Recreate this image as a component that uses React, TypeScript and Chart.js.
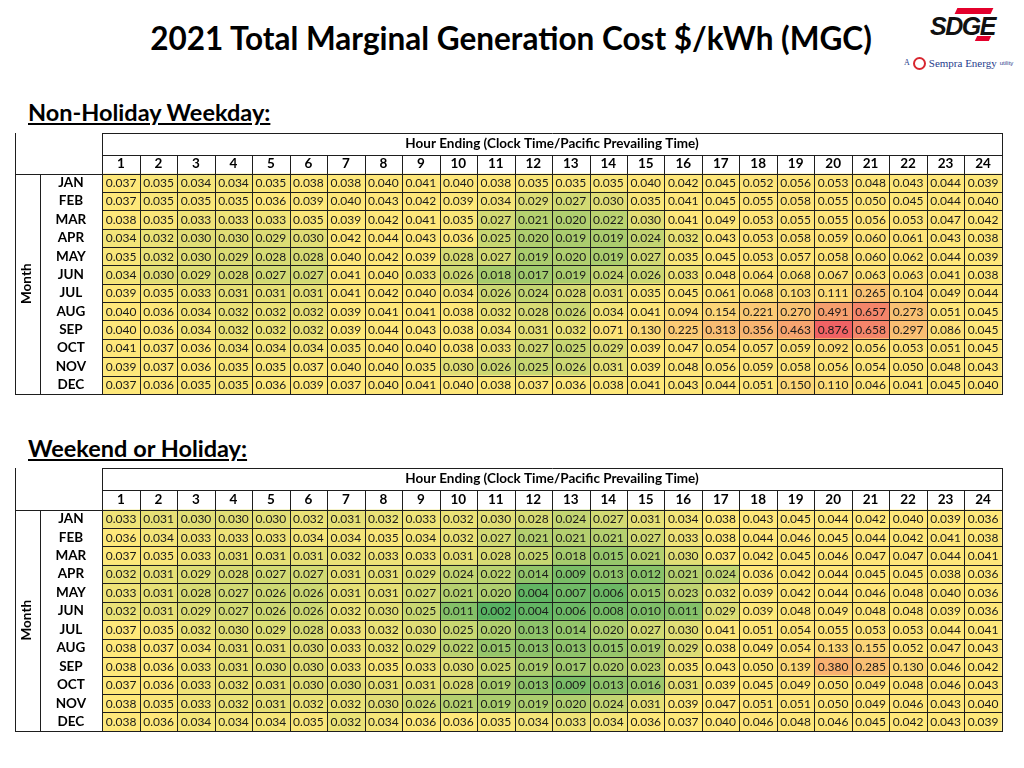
import React, { useEffect, useRef } from "react";
import { Chart, registerables } from "chart.js";

Chart.register(...registerables);

// ---------------- DATA ----------------
const MONTHS = ["JAN", "FEB", "MAR", "APR", "MAY", "JUN", "JUL", "AUG", "SEP", "OCT", "NOV", "DEC"];
const HOURS = ["1", "2", "3", "4", "5", "6", "7", "8", "9", "10", "11", "12", "13", "14", "15", "16", "17", "18", "19", "20", "21", "22", "23", "24"];

const TITLE = "2021 Total Marginal Generation Cost $/kWh (MGC)";
const WEEKDAY_HEADING = "Non-Holiday Weekday:";
const WEEKEND_HEADING = "Weekend or Holiday:";
const HOUR_AXIS_TITLE = "Hour Ending (Clock Time/Pacific Prevailing Time)";
const MONTH_AXIS_TITLE = "Month";

// Non-Holiday Weekday, rows = months, columns = hour ending 1..24
const weekdayCost: number[][] = [
  [0.037, 0.035, 0.034, 0.034, 0.035, 0.038, 0.038, 0.040, 0.041, 0.040, 0.038, 0.035, 0.035, 0.035, 0.040, 0.042, 0.045, 0.052, 0.056, 0.053, 0.048, 0.043, 0.044, 0.039],
  [0.037, 0.035, 0.035, 0.035, 0.036, 0.039, 0.040, 0.043, 0.042, 0.039, 0.034, 0.029, 0.027, 0.030, 0.035, 0.041, 0.045, 0.055, 0.058, 0.055, 0.050, 0.045, 0.044, 0.040],
  [0.038, 0.035, 0.033, 0.033, 0.033, 0.035, 0.039, 0.042, 0.041, 0.035, 0.027, 0.021, 0.020, 0.022, 0.030, 0.041, 0.049, 0.053, 0.055, 0.055, 0.056, 0.053, 0.047, 0.042],
  [0.034, 0.032, 0.030, 0.030, 0.029, 0.030, 0.042, 0.044, 0.043, 0.036, 0.025, 0.020, 0.019, 0.019, 0.024, 0.032, 0.043, 0.053, 0.058, 0.059, 0.060, 0.061, 0.043, 0.038],
  [0.035, 0.032, 0.030, 0.029, 0.028, 0.028, 0.040, 0.042, 0.039, 0.028, 0.027, 0.019, 0.020, 0.019, 0.027, 0.035, 0.045, 0.053, 0.057, 0.058, 0.060, 0.062, 0.044, 0.039],
  [0.034, 0.030, 0.029, 0.028, 0.027, 0.027, 0.041, 0.040, 0.033, 0.026, 0.018, 0.017, 0.019, 0.024, 0.026, 0.033, 0.048, 0.064, 0.068, 0.067, 0.063, 0.063, 0.041, 0.038],
  [0.039, 0.035, 0.033, 0.031, 0.031, 0.031, 0.041, 0.042, 0.040, 0.034, 0.026, 0.024, 0.028, 0.031, 0.035, 0.045, 0.061, 0.068, 0.103, 0.111, 0.265, 0.104, 0.049, 0.044],
  [0.040, 0.036, 0.034, 0.032, 0.032, 0.032, 0.039, 0.041, 0.041, 0.038, 0.032, 0.028, 0.026, 0.034, 0.041, 0.094, 0.154, 0.221, 0.270, 0.491, 0.657, 0.273, 0.051, 0.045],
  [0.040, 0.036, 0.034, 0.032, 0.032, 0.032, 0.039, 0.044, 0.043, 0.038, 0.034, 0.031, 0.032, 0.071, 0.130, 0.225, 0.313, 0.356, 0.463, 0.876, 0.658, 0.297, 0.086, 0.045],
  [0.041, 0.037, 0.036, 0.034, 0.034, 0.034, 0.035, 0.040, 0.040, 0.038, 0.033, 0.027, 0.025, 0.029, 0.039, 0.047, 0.054, 0.057, 0.059, 0.092, 0.056, 0.053, 0.051, 0.045],
  [0.039, 0.037, 0.036, 0.035, 0.035, 0.037, 0.040, 0.040, 0.035, 0.030, 0.026, 0.025, 0.026, 0.031, 0.039, 0.048, 0.056, 0.059, 0.058, 0.056, 0.054, 0.050, 0.048, 0.043],
  [0.037, 0.036, 0.035, 0.035, 0.036, 0.039, 0.037, 0.040, 0.041, 0.040, 0.038, 0.037, 0.036, 0.038, 0.041, 0.043, 0.044, 0.051, 0.150, 0.110, 0.046, 0.041, 0.045, 0.040],
];

// Weekend or Holiday, rows = months, columns = hour ending 1..24
const weekendCost: number[][] = [
  [0.033, 0.031, 0.030, 0.030, 0.030, 0.032, 0.031, 0.032, 0.033, 0.032, 0.030, 0.028, 0.024, 0.027, 0.031, 0.034, 0.038, 0.043, 0.045, 0.044, 0.042, 0.040, 0.039, 0.036],
  [0.036, 0.034, 0.033, 0.033, 0.033, 0.034, 0.034, 0.035, 0.034, 0.032, 0.027, 0.021, 0.021, 0.021, 0.027, 0.033, 0.038, 0.044, 0.046, 0.045, 0.044, 0.042, 0.041, 0.038],
  [0.037, 0.035, 0.033, 0.031, 0.031, 0.031, 0.032, 0.033, 0.033, 0.031, 0.028, 0.025, 0.018, 0.015, 0.021, 0.030, 0.037, 0.042, 0.045, 0.046, 0.047, 0.047, 0.044, 0.041],
  [0.032, 0.031, 0.029, 0.028, 0.027, 0.027, 0.031, 0.031, 0.029, 0.024, 0.022, 0.014, 0.009, 0.013, 0.012, 0.021, 0.024, 0.036, 0.042, 0.044, 0.045, 0.045, 0.038, 0.036],
  [0.033, 0.031, 0.028, 0.027, 0.026, 0.026, 0.031, 0.031, 0.027, 0.021, 0.020, 0.004, 0.007, 0.006, 0.015, 0.023, 0.032, 0.039, 0.042, 0.044, 0.046, 0.048, 0.040, 0.036],
  [0.032, 0.031, 0.029, 0.027, 0.026, 0.026, 0.032, 0.030, 0.025, 0.011, 0.002, 0.004, 0.006, 0.008, 0.010, 0.011, 0.029, 0.039, 0.048, 0.049, 0.048, 0.048, 0.039, 0.036],
  [0.037, 0.035, 0.032, 0.030, 0.029, 0.028, 0.033, 0.032, 0.030, 0.025, 0.020, 0.013, 0.014, 0.020, 0.027, 0.030, 0.041, 0.051, 0.054, 0.055, 0.053, 0.053, 0.044, 0.041],
  [0.038, 0.037, 0.034, 0.031, 0.031, 0.030, 0.033, 0.032, 0.029, 0.022, 0.015, 0.013, 0.013, 0.015, 0.019, 0.029, 0.038, 0.049, 0.054, 0.133, 0.155, 0.052, 0.047, 0.043],
  [0.038, 0.036, 0.033, 0.031, 0.030, 0.030, 0.033, 0.035, 0.033, 0.030, 0.025, 0.019, 0.017, 0.020, 0.023, 0.035, 0.043, 0.050, 0.139, 0.380, 0.285, 0.130, 0.046, 0.042],
  [0.037, 0.036, 0.033, 0.032, 0.031, 0.030, 0.030, 0.031, 0.031, 0.028, 0.019, 0.013, 0.009, 0.013, 0.016, 0.031, 0.039, 0.045, 0.049, 0.050, 0.049, 0.048, 0.046, 0.043],
  [0.038, 0.035, 0.033, 0.032, 0.031, 0.032, 0.032, 0.030, 0.026, 0.021, 0.019, 0.019, 0.020, 0.024, 0.031, 0.039, 0.047, 0.051, 0.051, 0.050, 0.049, 0.046, 0.043, 0.040],
  [0.038, 0.036, 0.034, 0.034, 0.034, 0.035, 0.032, 0.034, 0.036, 0.036, 0.035, 0.034, 0.033, 0.034, 0.036, 0.037, 0.040, 0.046, 0.048, 0.046, 0.045, 0.042, 0.043, 0.039],
];

// ---------------- COLOR SCALE (3-colour: min green, median yellow, max red) ----------------
const GREEN = [88, 178, 98];
const YELLOW = [254, 232, 122];
const RED = [240, 98, 100];

const sortedVals = [...weekdayCost.flat(), ...weekendCost.flat()].sort((a, b) => a - b);
const vMin = sortedVals[0];
const vMax = sortedVals[sortedVals.length - 1];
const vMid = (() => {
  const idx = (sortedVals.length - 1) * 0.5;
  const lo = Math.floor(idx);
  const hi = Math.ceil(idx);
  return sortedVals[lo] + (sortedVals[hi] - sortedVals[lo]) * (idx - lo);
})();

function mix(a: number[], b: number[], t: number) {
  const c = a.map((v, i) => Math.round(v + (b[i] - v) * Math.max(0, Math.min(1, t))));
  return `rgb(${c[0]},${c[1]},${c[2]})`;
}
function heatColor(v: number | undefined) {
  if (v === undefined || v === null) return "#ffffff";
  if (v <= vMid) return mix(GREEN, YELLOW, (v - vMin) / (vMid - vMin));
  return mix(YELLOW, RED, (v - vMid) / (vMax - vMid));
}

// ---------------- LAYOUT CONSTANTS ----------------
const FONT = "Lato";
const LINE_COLOR = "#1e1e1e";
const FRAME_LEFT = 15;
const MONTH_COL_X = 40;
const TABLE_RIGHT = 1001.8;
const LABEL_AXIS_W = 87.3;

type TableProps = {
  values: number[][];
  top: number;
  height: number;
  headerH: number;
  hourRowH: number;
};

function HeatTable({ values, top, height, headerH, hourRowH }: TableProps) {
  const ref = useRef<HTMLCanvasElement>(null);

  useEffect(() => {
    if (!ref.current) return;

    const datasets = HOURS.map((h, hi) => ({
      label: h,
      xAxisID: "x",
      yAxisID: "y",
      data: MONTHS.map((m, mi) => ({ x: [hi, hi + 1], y: m, v: values[mi][hi] })),
      backgroundColor: (ctx: any) => heatColor(ctx.raw ? ctx.raw.v : undefined),
    }));

    const linesPlugin = {
      id: "tableLines",
      afterDraw(chart: any) {
        const { ctx, chartArea: ca, scales } = chart;
        const xs = scales.x;
        const ys = scales.y;
        const xh = scales.xh;
        const al = (p: number) => Math.round(p) + 0.5;
        const hdrTop = xh.top;
        const hourTop = ca.top - hourRowH;
        ctx.save();
        ctx.strokeStyle = LINE_COLOR;
        ctx.lineWidth = 1;
        ctx.beginPath();
        const hline = (y: number, x0: number, x1: number) => {
          ctx.moveTo(Math.round(x0), al(y));
          ctx.lineTo(Math.round(x1) + 1, al(y));
        };
        const vline = (x: number, y0: number, y1: number) => {
          ctx.moveTo(al(x), Math.round(y0));
          ctx.lineTo(al(x), Math.round(y1) + 1);
        };
        hline(hdrTop, ca.left, ca.right);
        hline(hourTop, ca.left, ca.right);
        for (let j = 0; j <= MONTHS.length; j++) {
          const y = ys.getPixelForValue(j - 0.5);
          const x0 = j === 0 || j === MONTHS.length ? FRAME_LEFT : ca.left;
          hline(y, x0, ca.right);
        }
        for (let i = 0; i <= HOURS.length; i++) {
          const x = xs.getPixelForValue(i);
          const y0 = i === 0 || i === HOURS.length ? hdrTop : hourTop;
          vline(x, y0, ca.bottom);
        }
        vline(FRAME_LEFT, hdrTop, ca.bottom);
        vline(MONTH_COL_X, ca.top, ca.bottom);
        ctx.stroke();
        ctx.restore();
      },
    };

    const labelPlugin = {
      id: "cellLabels",
      afterDatasetsDraw(chart: any) {
        const { ctx } = chart;
        ctx.save();
        ctx.font = `12px ${FONT}`;
        ctx.fillStyle = "#1a1a1a";
        ctx.textAlign = "center";
        ctx.textBaseline = "middle";
        chart.data.datasets.forEach((ds: any, di: number) => {
          const meta = chart.getDatasetMeta(di);
          meta.data.forEach((el: any, i: number) => {
            const p = el.getCenterPoint();
            ctx.fillText(ds.data[i].v.toFixed(3), p.x, p.y + 0.5);
          });
        });
        ctx.restore();
      },
    };

    const boldFont = { family: FONT, size: 13.5, weight: "bold" as const };

    const chart = new Chart(ref.current, {
      type: "bar",
      data: { labels: MONTHS, datasets: datasets as any },
      options: {
        animation: false,
        responsive: false,
        devicePixelRatio: 1,
        indexAxis: "y",
        layout: { padding: { left: FRAME_LEFT, right: 1024 - TABLE_RIGHT, top: 5, bottom: 8 } },
        datasets: {
          bar: { grouped: false, categoryPercentage: 1, barPercentage: 1, borderWidth: 0 },
        } as any,
        plugins: {
          legend: { display: false },
          tooltip: { enabled: false },
          title: { display: false },
        },
        scales: {
          x: { type: "linear", display: false, min: 0, max: HOURS.length },
          xh: {
            type: "category",
            axis: "x",
            position: "top",
            labels: HOURS,
            offset: true,
            grid: { display: false, drawTicks: false },
            border: { display: false },
            ticks: { font: boldFont, color: "#000", padding: 1.4, maxRotation: 0, autoSkip: false },
            title: {
              display: true,
              text: HOUR_AXIS_TITLE,
              font: boldFont,
              color: "#000",
              padding: { top: 2.9, bottom: 0 },
            },
            afterFit: (s: any) => {
              s.height = headerH;
            },
          } as any,
          y: {
            type: "category",
            labels: MONTHS,
            offset: true,
            grid: { display: false, drawTicks: false },
            border: { display: false },
            ticks: { font: boldFont, color: "#000", crossAlign: "center", padding: 16, autoSkip: false },
            title: {
              display: true,
              text: MONTH_AXIS_TITLE,
              font: boldFont,
              color: "#000",
              padding: { top: 3.9, bottom: 0 },
            },
            afterFit: (s: any) => {
              s.width = LABEL_AXIS_W;
            },
          } as any,
        },
      },
      plugins: [labelPlugin, linesPlugin],
    } as any);

    return () => chart.destroy();
  }, [values, top, height, headerH, hourRowH]);

  return (
    <canvas
      ref={ref}
      width={1024}
      height={height}
      style={{ position: "absolute", left: 0, top, width: 1024, height, display: "block" }}
    />
  );
}

function Logo() {
  return (
    <div style={{ position: "absolute", left: 900, top: 4, width: 124, height: 70 }}>
      <div
        style={{
          position: "absolute",
          left: 56,
          top: 4,
          width: 36,
          height: 6,
          background: "#e4002b",
          transform: "skewX(-25deg)",
        }}
      />
      <div
        style={{
          position: "absolute",
          left: 30,
          top: 8,
          fontFamily: "Liberation Sans",
          fontStyle: "italic",
          fontWeight: 900,
          fontSize: 25,
          letterSpacing: -1.5,
          color: "#111",
          lineHeight: "28px",
        }}
      >
        SDG<span style={{ color: "#111" }}>E</span>
      </div>
      <div
        style={{
          position: "absolute",
          left: 76,
          top: 32,
          width: 14,
          height: 5,
          background: "#e4002b",
          transform: "skewX(-25deg)",
        }}
      />
      <div
        style={{
          position: "absolute",
          left: 4,
          top: 52,
          whiteSpace: "nowrap",
          color: "#1f3c8c",
          fontFamily: "Liberation Serif",
          fontSize: 11,
          lineHeight: "14px",
          display: "flex",
          alignItems: "center",
        }}
      >
        <span style={{ fontSize: 8, marginRight: 3 }}>A</span>
        <span
          style={{
            display: "inline-block",
            width: 13,
            height: 13,
            borderRadius: "50%",
            border: "2px solid #d8262f",
            boxSizing: "border-box",
            marginRight: 3,
          }}
        />
        <span>Sempra Energy</span>
        <span style={{ fontSize: 6, marginLeft: 3, fontFamily: "Liberation Sans" }}>utility</span>
      </div>
    </div>
  );
}

export default function App() {
  return (
    <div
      style={{
        position: "fixed",
        left: 0,
        top: 0,
        width: 1024,
        height: 768,
        background: "#ffffff",
        overflow: "hidden",
        fontFamily: FONT,
        color: "#000",
      }}
    >
      <div
        style={{
          position: "absolute",
          left: 0,
          top: 18,
          width: 1022,
          textAlign: "center",
          fontWeight: 700,
          fontSize: 31.5,
          lineHeight: "40px",
          whiteSpace: "nowrap",
        }}
      >
        {TITLE}
      </div>
      <Logo />
      <div
        style={{
          position: "absolute",
          left: 28,
          top: 97,
          fontWeight: 700,
          fontSize: 23.5,
          lineHeight: "30px",
          textDecoration: "underline",
          whiteSpace: "nowrap",
        }}
      >
        {WEEKDAY_HEADING}
      </div>
      <HeatTable values={weekdayCost} top={128} height={290} headerH={40.5} hourRowH={18.5} />
      <div
        style={{
          position: "absolute",
          left: 28,
          top: 433,
          fontWeight: 700,
          fontSize: 23.5,
          lineHeight: "30px",
          textDecoration: "underline",
          whiteSpace: "nowrap",
        }}
      >
        {WEEKEND_HEADING}
      </div>
      <HeatTable values={weekendCost} top={463} height={292} headerH={41.5} hourRowH={19.5} />
    </div>
  );
}
